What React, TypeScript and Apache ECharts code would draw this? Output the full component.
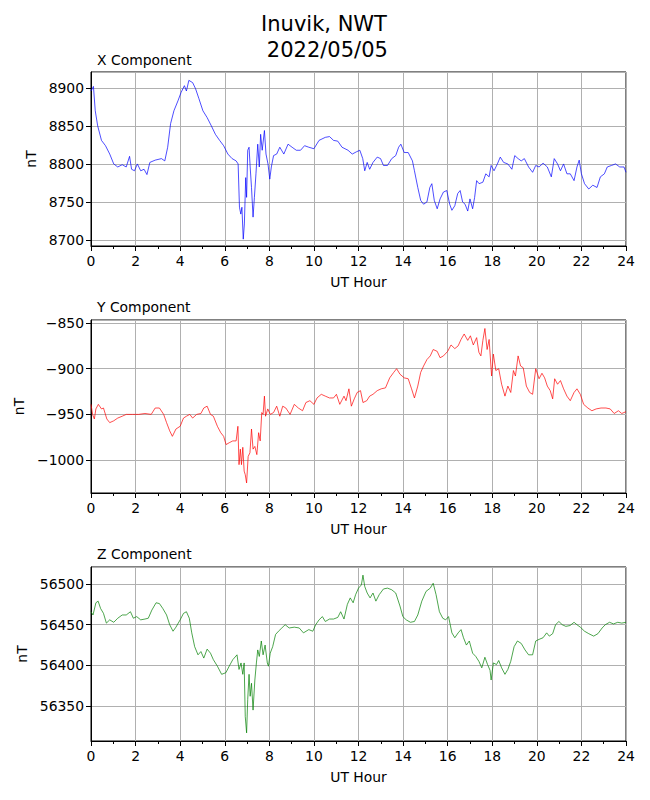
import React, { useEffect, useRef } from "react";
import * as echarts from "echarts";

const mainTitle = "Inuvik, NWT\n 2022/05/05";
const panelTitles = ["X Component", "Y Component", "Z Component"];
const hourTicks = [0, 2, 4, 6, 8, 10, 12, 14, 16, 18, 20, 22, 24];

const xComponent: [number, number][] = [
  [0, 8896], [0.11, 8902], [0.19, 8870], [0.3, 8850], [0.47, 8831], [0.65, 8824], [0.84, 8813],
  [1.02, 8800], [1.2, 8796], [1.4, 8799], [1.58, 8796], [1.73, 8810], [1.82, 8793], [1.95, 8791],
  [2.08, 8800], [2.23, 8791], [2.38, 8793], [2.51, 8786], [2.64, 8802], [2.88, 8805], [3.16, 8807],
  [3.31, 8804], [3.44, 8822], [3.57, 8853], [3.72, 8870], [3.9, 8883], [4.04, 8894], [4.19, 8903],
  [4.28, 8896], [4.39, 8910], [4.56, 8907], [4.69, 8899], [4.84, 8886], [5.02, 8870], [5.21, 8861],
  [5.4, 8850], [5.58, 8839], [5.77, 8831], [5.95, 8824], [6.14, 8813], [6.33, 8807], [6.51, 8804],
  [6.6, 8800], [6.66, 8743], [6.72, 8734], [6.77, 8743], [6.83, 8701], [6.88, 8721], [6.94, 8782],
  [6.98, 8756], [7.03, 8818], [7.09, 8822], [7.14, 8796], [7.2, 8769], [7.27, 8730], [7.33, 8756],
  [7.4, 8787], [7.48, 8826], [7.55, 8796], [7.61, 8839], [7.68, 8818], [7.78, 8844], [7.85, 8813],
  [7.94, 8800], [8.02, 8780], [8.09, 8796], [8.19, 8811], [8.33, 8813], [8.47, 8822], [8.65, 8813],
  [8.84, 8826], [9.02, 8822], [9.21, 8818], [9.4, 8818], [9.58, 8824], [9.77, 8822], [10.0, 8820],
  [10.23, 8831], [10.51, 8835], [10.7, 8836], [10.88, 8831], [11.07, 8830], [11.26, 8822],
  [11.53, 8818], [11.72, 8813], [11.91, 8816], [12.06, 8818], [12.19, 8807], [12.28, 8791],
  [12.39, 8802], [12.5, 8793], [12.65, 8802], [12.84, 8809], [12.99, 8807], [13.12, 8798],
  [13.3, 8798], [13.49, 8807], [13.67, 8811], [13.8, 8822], [13.9, 8826], [14.05, 8815],
  [14.23, 8815], [14.42, 8804], [14.51, 8791], [14.66, 8769], [14.79, 8752], [14.92, 8747],
  [15.07, 8750], [15.2, 8769], [15.29, 8774], [15.4, 8752], [15.53, 8741], [15.66, 8754],
  [15.81, 8763], [15.96, 8765], [16.09, 8747], [16.19, 8739], [16.32, 8745], [16.45, 8761],
  [16.56, 8765], [16.67, 8750], [16.78, 8747], [16.9, 8738], [17.0, 8754], [17.12, 8741],
  [17.21, 8756], [17.3, 8778], [17.41, 8774], [17.58, 8776], [17.71, 8787], [17.86, 8783],
  [17.95, 8798], [18.08, 8791], [18.23, 8800], [18.36, 8809], [18.51, 8802], [18.7, 8800],
  [18.88, 8793], [19.01, 8811], [19.16, 8807], [19.3, 8804], [19.44, 8807], [19.63, 8796],
  [19.81, 8789], [19.95, 8798], [20.1, 8796], [20.28, 8801], [20.47, 8796], [20.65, 8783],
  [20.78, 8807], [20.93, 8800], [21.06, 8791], [21.2, 8800], [21.35, 8787], [21.5, 8787],
  [21.67, 8778], [21.8, 8796], [21.9, 8805], [22.0, 8787], [22.14, 8774], [22.33, 8767],
  [22.51, 8772], [22.7, 8769], [22.85, 8783], [23.03, 8787], [23.16, 8796], [23.35, 8798],
  [23.53, 8800], [23.72, 8796], [23.91, 8796], [24.0, 8789],
];

const yComponent: [number, number][] = [
  [0, -939], [0.07, -950], [0.15, -955], [0.22, -944], [0.33, -939], [0.47, -944], [0.56, -943],
  [0.71, -955], [0.84, -959], [1.02, -957], [1.2, -954], [1.4, -952], [1.58, -950], [1.86, -950],
  [2.14, -950], [2.42, -949], [2.7, -950], [2.88, -943], [3.07, -943], [3.26, -950], [3.39, -959],
  [3.53, -968], [3.65, -974], [3.81, -966], [4.0, -963], [4.15, -954], [4.28, -952], [4.43, -950],
  [4.56, -954], [4.74, -950], [4.93, -949], [5.06, -943], [5.21, -941], [5.36, -950], [5.49, -952],
  [5.67, -963], [5.82, -970], [5.95, -974], [6.06, -983], [6.2, -981], [6.36, -979], [6.51, -979],
  [6.59, -963], [6.64, -1005], [6.7, -988], [6.75, -1005], [6.81, -986], [6.87, -1012],
  [6.92, -1016], [6.98, -1025], [7.05, -996], [7.13, -992], [7.2, -966], [7.27, -988], [7.35, -985],
  [7.44, -994], [7.52, -970], [7.59, -979], [7.66, -948], [7.72, -950], [7.78, -930], [7.83, -952],
  [7.93, -944], [8.04, -950], [8.19, -948], [8.33, -941], [8.47, -952], [8.6, -941], [8.74, -943],
  [8.93, -950], [9.12, -939], [9.3, -943], [9.49, -946], [9.64, -937], [9.82, -935], [10.0, -939],
  [10.14, -932], [10.33, -928], [10.51, -930], [10.7, -932], [10.88, -932], [11.01, -928],
  [11.16, -939], [11.35, -930], [11.44, -935], [11.57, -922], [11.68, -941], [11.81, -933],
  [11.94, -926], [12.09, -924], [12.2, -937], [12.37, -935], [12.5, -930], [12.65, -928],
  [12.84, -924], [13.02, -922], [13.21, -921], [13.4, -910], [13.58, -904], [13.71, -900],
  [13.86, -906], [14.05, -910], [14.23, -911], [14.38, -922], [14.51, -932], [14.66, -919],
  [14.79, -904], [14.92, -897], [15.07, -890], [15.22, -886], [15.35, -879], [15.53, -881],
  [15.66, -888], [15.81, -886], [16.0, -881], [16.15, -874], [16.32, -878], [16.47, -875],
  [16.6, -868], [16.74, -862], [16.9, -869], [17.02, -864], [17.15, -874], [17.3, -866],
  [17.4, -882], [17.49, -886], [17.58, -869], [17.67, -856], [17.77, -879], [17.86, -868],
  [17.97, -908], [18.05, -884], [18.16, -902], [18.29, -900], [18.42, -917], [18.57, -930],
  [18.7, -919], [18.83, -926], [18.95, -902], [19.04, -908], [19.16, -886], [19.27, -897],
  [19.39, -899], [19.53, -919], [19.68, -926], [19.81, -928], [19.95, -900], [20.1, -911],
  [20.23, -905], [20.35, -910], [20.47, -919], [20.6, -924], [20.71, -933], [20.8, -911],
  [20.93, -917], [21.06, -913], [21.2, -922], [21.35, -930], [21.5, -935], [21.67, -926],
  [21.8, -922], [21.95, -928], [22.1, -939], [22.29, -943], [22.47, -946], [22.66, -944],
  [22.88, -943], [23.1, -943], [23.29, -944], [23.47, -949], [23.66, -946], [23.81, -949],
  [24.0, -947],
];

const zComponent: [number, number][] = [
  [0, 56466], [0.09, 56462], [0.22, 56477], [0.32, 56479], [0.43, 56470], [0.56, 56464],
  [0.69, 56452], [0.84, 56456], [1.02, 56453], [1.2, 56458], [1.4, 56462], [1.58, 56462],
  [1.77, 56466], [1.9, 56458], [2.05, 56460], [2.23, 56456], [2.42, 56457], [2.57, 56458],
  [2.73, 56468], [2.92, 56477], [3.07, 56476], [3.22, 56470], [3.39, 56462], [3.53, 56450],
  [3.68, 56442], [3.81, 56447], [4.0, 56456], [4.15, 56464], [4.28, 56466], [4.41, 56458],
  [4.52, 56440], [4.65, 56423], [4.8, 56413], [4.93, 56417], [5.06, 56409], [5.21, 56420],
  [5.36, 56415], [5.49, 56407], [5.67, 56399], [5.86, 56389], [6.05, 56391], [6.2, 56399],
  [6.36, 56407], [6.55, 56413], [6.64, 56395], [6.73, 56403], [6.81, 56389], [6.87, 56403],
  [6.92, 56337], [6.98, 56317], [7.03, 56358], [7.09, 56389], [7.14, 56362], [7.2, 56378],
  [7.27, 56345], [7.35, 56382], [7.42, 56403], [7.48, 56419], [7.55, 56411], [7.64, 56430],
  [7.72, 56413], [7.81, 56425], [7.91, 56403], [7.96, 56399], [8.04, 56415], [8.15, 56423],
  [8.28, 56438], [8.41, 56442], [8.56, 56446], [8.71, 56450], [8.89, 56446], [9.12, 56447],
  [9.34, 56446], [9.53, 56440], [9.77, 56444], [9.95, 56442], [10.08, 56450], [10.23, 56456],
  [10.38, 56460], [10.51, 56454], [10.7, 56457], [10.88, 56457], [11.07, 56459], [11.2, 56466],
  [11.35, 56457], [11.5, 56475], [11.63, 56483], [11.76, 56477], [11.87, 56487], [12.0, 56495],
  [12.13, 56499], [12.2, 56511], [12.28, 56497], [12.39, 56489], [12.52, 56483], [12.65, 56489],
  [12.78, 56479], [12.93, 56487], [13.12, 56494], [13.3, 56495], [13.49, 56493], [13.67, 56489],
  [13.86, 56473], [13.99, 56460], [14.14, 56456], [14.33, 56453], [14.51, 56454], [14.66, 56462],
  [14.84, 56479], [15.03, 56491], [15.22, 56495], [15.35, 56501], [15.48, 56487], [15.63, 56466],
  [15.78, 56458], [15.91, 56456], [16.04, 56460], [16.19, 56440], [16.32, 56434], [16.47, 56440],
  [16.6, 56444], [16.71, 56434], [16.84, 56425], [16.97, 56430], [17.12, 56415], [17.26, 56411],
  [17.4, 56405], [17.53, 56397], [17.67, 56410], [17.79, 56401], [17.9, 56394], [17.95, 56382],
  [18.05, 56403], [18.19, 56401], [18.29, 56406], [18.42, 56397], [18.57, 56389], [18.7, 56395],
  [18.83, 56405], [18.98, 56423], [19.13, 56430], [19.3, 56427], [19.47, 56419], [19.63, 56413],
  [19.81, 56413], [19.95, 56430], [20.1, 56432], [20.28, 56434], [20.44, 56440], [20.56, 56436],
  [20.71, 56439], [20.84, 56450], [20.99, 56454], [21.14, 56450], [21.3, 56448], [21.49, 56449],
  [21.67, 56453], [21.8, 56450], [21.95, 56447], [22.14, 56442], [22.33, 56439], [22.55, 56436],
  [22.74, 56439], [22.93, 56446], [23.07, 56450], [23.26, 56453], [23.44, 56451], [23.63, 56453],
  [23.81, 56452], [24.0, 56453],
];

const yRanges: [number, number][] = [
  [8692, 8921],
  [-1036, -846.7],
  [56307, 56521],
];
const lineColors = ["#0000ff", "#ff0000", "#008000"];
const seriesData = [xComponent, yComponent, zComponent];

const FONT = "DejaVu Sans";
const FS = 13.9;

export default function App() {
  const ref = useRef<HTMLDivElement>(null);
  useEffect(() => {
    if (!ref.current) return;
    const chart = echarts.init(ref.current, undefined, { renderer: "svg" });
    const tops = [72, 320, 567];
    const heights = [174, 173, 174];
    const grids = tops.map((t, i) => ({
      left: 91,
      right: 24,
      top: t,
      height: heights[i],
      show: true,
      borderColor: "#000",
      borderWidth: 1,
      backgroundColor: "transparent",
    }));
    const xAxes = tops.map((_, i) => ({
      type: "value",
      gridIndex: i,
      min: hourTicks[0],
      max: hourTicks[hourTicks.length - 1],
      interval: 2,
      name: "UT Hour",
      nameLocation: "middle",
      nameGap: 29,
      nameTextStyle: { fontFamily: FONT, fontSize: FS, color: "#000" },
      axisLine: { show: true, onZero: false, lineStyle: { color: "#000", width: 1 } },
      axisTick: { show: true, length: 5, lineStyle: { color: "#000", width: 1 } },
      minorTick: { show: true, splitNumber: 2, length: 3, lineStyle: { color: "#000", width: 1 } },
      axisLabel: { fontFamily: FONT, fontSize: FS, color: "#000", margin: 8 },
      splitLine: { show: true, lineStyle: { color: "#b0b0b0", width: 1 } },
    }));
    const yAxes = tops.map((_, i) => ({
      type: "value",
      gridIndex: i,
      min: yRanges[i][0],
      max: yRanges[i][1],
      splitNumber: 4,
      name: "nT",
      nameLocation: "middle",
      nameGap: i === 2 ? 53 : i === 1 ? 51 : 44,
      nameTextStyle: { fontFamily: FONT, fontSize: FS, color: "#000" },
      axisLine: { show: true, onZero: false, lineStyle: { color: "#000", width: 1 } },
      axisTick: { show: true, length: 5, lineStyle: { color: "#000", width: 1 } },
      axisLabel: {
        fontFamily: FONT,
        fontSize: FS,
        color: "#000",
        margin: 7,
        showMinLabel: false,
        showMaxLabel: false,
        formatter: (v: number) => {
          const r = Math.round(v);
          if (Math.abs(r % 50) !== 0) return "";
          return r < 0 ? "\u2212" + Math.abs(r) : String(r);
        },
      },
      splitLine: { show: true, lineStyle: { color: "#b0b0b0", width: 1 } },
    }));
    const series = seriesData.map((d, i) => ({
      type: "line",
      xAxisIndex: i,
      yAxisIndex: i,
      data: d,
      showSymbol: false,
      symbol: "none",
      lineStyle: { color: lineColors[i], width: 0.7 },
      silent: true,
    }));
    const titles: any[] = [
      {
        text: mainTitle,
        left: 324,
        top: 11.5,
        padding: 0,
        textAlign: "center",
        textStyle: { fontFamily: FONT, fontSize: 21, fontWeight: "normal", color: "#000", lineHeight: 25.5 },
      },
    ];
    const titleTops = [52.5, 299.5, 547];
    panelTitles.forEach((t, i) =>
      titles.push({
        text: t,
        left: 97,
        top: titleTops[i],
        padding: 0,
        textStyle: { fontFamily: FONT, fontSize: FS, fontWeight: "normal", color: "#000" },
      })
    );
    chart.setOption({
      animation: false,
      backgroundColor: "#fff",
      title: titles,
      grid: grids,
      xAxis: xAxes,
      yAxis: yAxes,
      series,
    });
    return () => chart.dispose();
  }, []);
  return (
    <div
      ref={ref}
      style={{ position: "absolute", left: 0, top: 0, width: 650, height: 800 }}
    />
  );
}
